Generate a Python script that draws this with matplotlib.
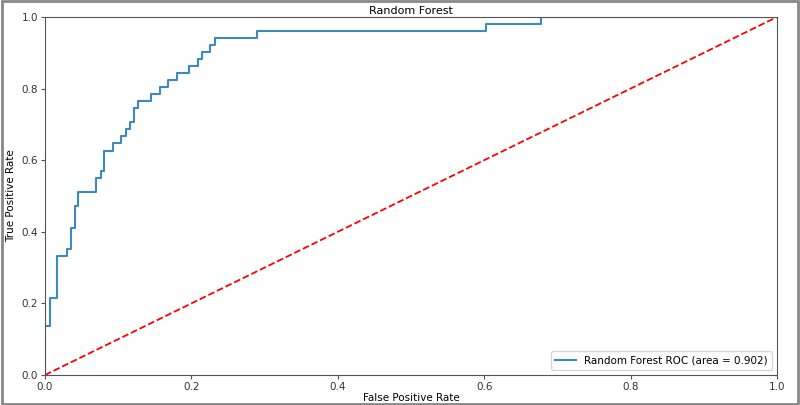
import matplotlib
matplotlib.use("Agg")
import matplotlib.pyplot as plt
from matplotlib.patches import Rectangle

title = "Random Forest"
label = "Random Forest ROC (area = 0.902)"

fpr = [0.0, 0.0, 0.007, 0.007, 0.017, 0.017, 0.030, 0.030, 0.035, 0.035,
       0.041, 0.041, 0.045, 0.045, 0.070, 0.070, 0.076, 0.076, 0.081, 0.081,
       0.093, 0.093, 0.104, 0.104, 0.110, 0.110, 0.116, 0.116, 0.121, 0.121,
       0.127, 0.127, 0.145, 0.145, 0.157, 0.157, 0.168, 0.168, 0.180, 0.180,
       0.197, 0.197, 0.209, 0.209, 0.214, 0.214, 0.225, 0.225, 0.232, 0.232,
       0.290, 0.290, 0.602, 0.602, 0.677, 0.677, 1.0]
tpr = [0.0, 0.137, 0.137, 0.216, 0.216, 0.333, 0.333, 0.353, 0.353, 0.412,
       0.412, 0.471, 0.471, 0.510, 0.510, 0.549, 0.549, 0.569, 0.569, 0.627,
       0.627, 0.647, 0.647, 0.667, 0.667, 0.686, 0.686, 0.706, 0.706, 0.745,
       0.745, 0.765, 0.765, 0.784, 0.784, 0.804, 0.804, 0.824, 0.824, 0.843,
       0.843, 0.863, 0.863, 0.882, 0.882, 0.902, 0.902, 0.922, 0.922, 0.941,
       0.941, 0.961, 0.961, 0.980, 0.980, 1.0, 1.0]
diag = [0, 1]

fig = plt.figure(figsize=(8, 4.05), dpi=100)
ax = fig.add_axes([45/800, 1-375/405, 732/800, 358/405])
ax.plot(fpr, tpr, color="#3d8ac0", lw=1.5, label=label)
ax.plot(diag, diag, "r--", lw=1.3)
ax.set_xlim(0, 1)
ax.set_ylim(0, 1)
ax.set_title(title, fontsize=8, pad=2)
ax.set_xlabel("False Positive Rate", fontsize=7.5, labelpad=1)
ax.set_ylabel("True Positive Rate", fontsize=7.5, labelpad=4)
ax.tick_params(labelsize=7.5, length=3, pad=2, color="#555555", labelcolor="#333333")
for s in ax.spines.values():
    s.set_color("#555555")
ax.legend(loc="lower right", fontsize=7.5, frameon=True)
fig.patches.append(Rectangle((0.002, 0.003), 0.996, 0.994, transform=fig.transFigure,
                             fill=False, edgecolor="#888888", lw=2))
fig.savefig("out.png", dpi=100)
